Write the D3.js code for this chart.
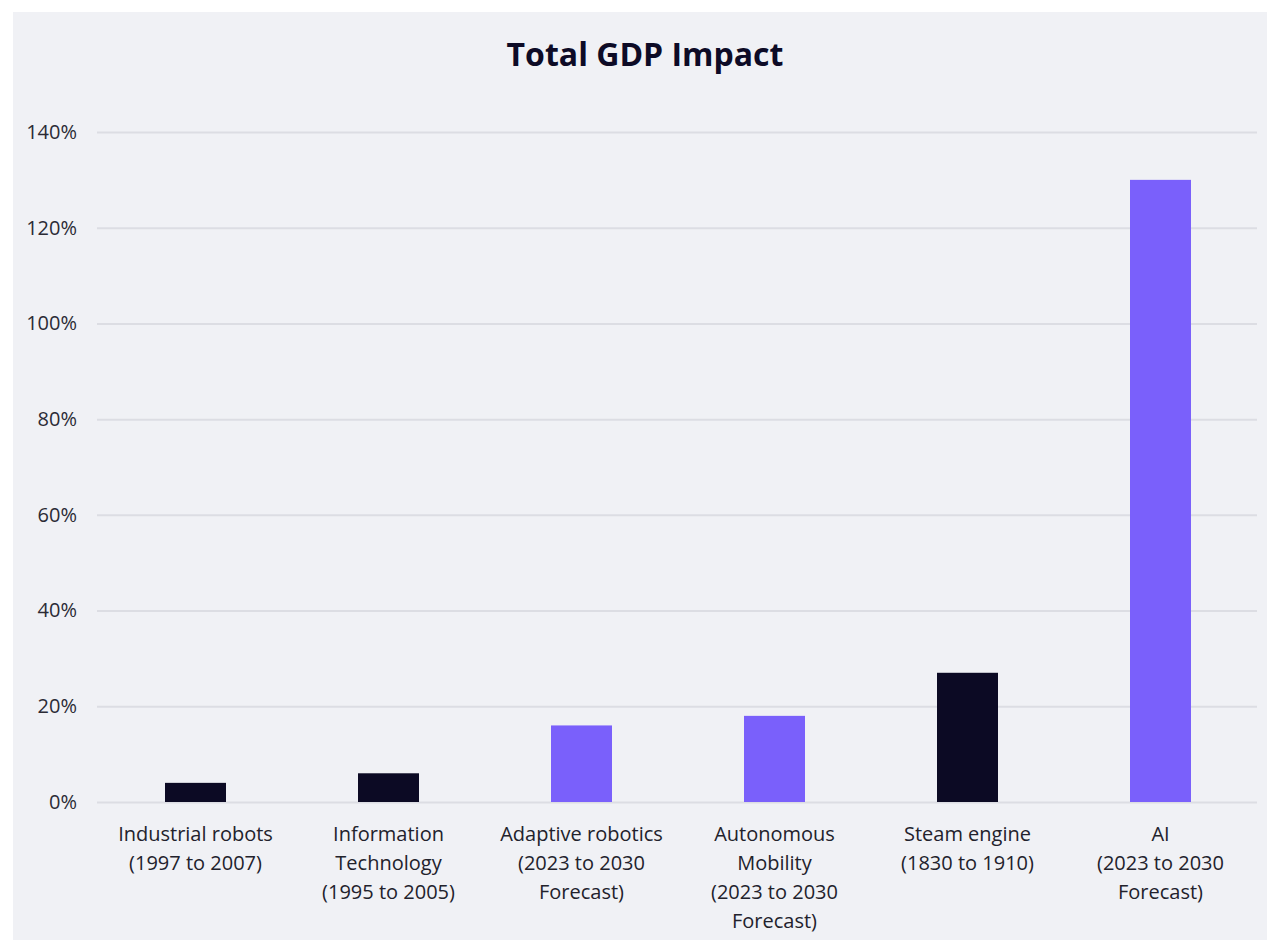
<!DOCTYPE html>
<html>
<head>
<meta charset="utf-8">
<script src="https://cdn.jsdelivr.net/npm/d3@7"></script>
<style>
  html, body { margin: 0; padding: 0; background: #ffffff; }
  svg { display: block; }
  text { font-family: "Open Sans", "Noto Sans", sans-serif; }
</style>
</head>
<body>
<svg id="chart" width="1267" height="941"></svg>
<script>
// Categories (multi-line labels), values in percent, and bar kind
const categories = [
  ["Industrial robots", "(1997 to 2007)"],
  ["Information", "Technology", "(1995 to 2005)"],
  ["Adaptive robotics", "(2023 to 2030", "Forecast)"],
  ["Autonomous", "Mobility", "(2023 to 2030", "Forecast)"],
  ["Steam engine", "(1830 to 1910)"],
  ["AI", "(2023 to 2030", "Forecast)"]
];
const values = [4, 6, 16, 18, 27, 130];
const kinds = ["historical", "historical", "forecast", "forecast", "historical", "forecast"];
const yTicks = [0, 20, 40, 60, 80, 100, 120, 140];
const title = "Total GDP Impact";

const colors = { historical: "#0c0a24", forecast: "#7a60fb" };

const svg = d3.select("#chart");
const W = 1267, H = 941;

// Panel background
svg.append("rect")
  .attr("x", 13).attr("y", 12)
  .attr("width", W - 13).attr("height", H - 13)
  .attr("fill", "#f0f1f5");

const margin = { left: 97, right: 10, top: 132, bottom: 139 };
const plotW = W - margin.left - margin.right;

const x = d3.scaleBand()
  .domain(d3.range(categories.length))
  .range([margin.left + 2, W - margin.right])
  .paddingInner(0.684)
  .paddingOuter(0.342);

const y = d3.scaleLinear()
  .domain([0, 140])
  .range([H - margin.bottom, margin.top]);

// Title
svg.append("text")
  .attr("x", 645).attr("y", 66)
  .attr("text-anchor", "middle")
  .attr("font-size", 32)
  .attr("font-weight", 700)
  .attr("fill", "#0d0b26")
  .text(title);

// Gridlines and y labels
const yAxis = d3.axisLeft(y)
  .tickValues(yTicks)
  .tickSize(-(plotW))
  .tickFormat(d => d + "%");

const gy = svg.append("g")
  .attr("transform", `translate(${margin.left},0)`)
  .call(yAxis);
gy.select(".domain").remove();
gy.selectAll(".tick line")
  .attr("stroke", "#dcdde3")
  .attr("stroke-width", 2);
gy.selectAll(".tick text")
  .attr("x", -20)
  .attr("font-size", 20)
  .attr("fill", "#2b2b35");

// Bars
svg.append("g").selectAll("rect")
  .data(values)
  .join("rect")
  .attr("x", (d, i) => x(i))
  .attr("width", x.bandwidth())
  .attr("y", d => y(d))
  .attr("height", d => y(0) - y(d))
  .attr("fill", (d, i) => colors[kinds[i]]);

// Category labels
const labels = svg.append("g").selectAll("text")
  .data(categories)
  .join("text")
  .attr("x", (d, i) => x(i) + x.bandwidth() / 2)
  .attr("y", H - margin.bottom + 39)
  .attr("text-anchor", "middle")
  .attr("font-size", 20)
  .attr("fill", "#22222c");
labels.selectAll("tspan")
  .data(d => d)
  .join("tspan")
  .attr("x", function () { return d3.select(this.parentNode).attr("x"); })
  .attr("dy", (d, i) => i === 0 ? 0 : 29)
  .text(d => d);
</script>
</body>
</html>
